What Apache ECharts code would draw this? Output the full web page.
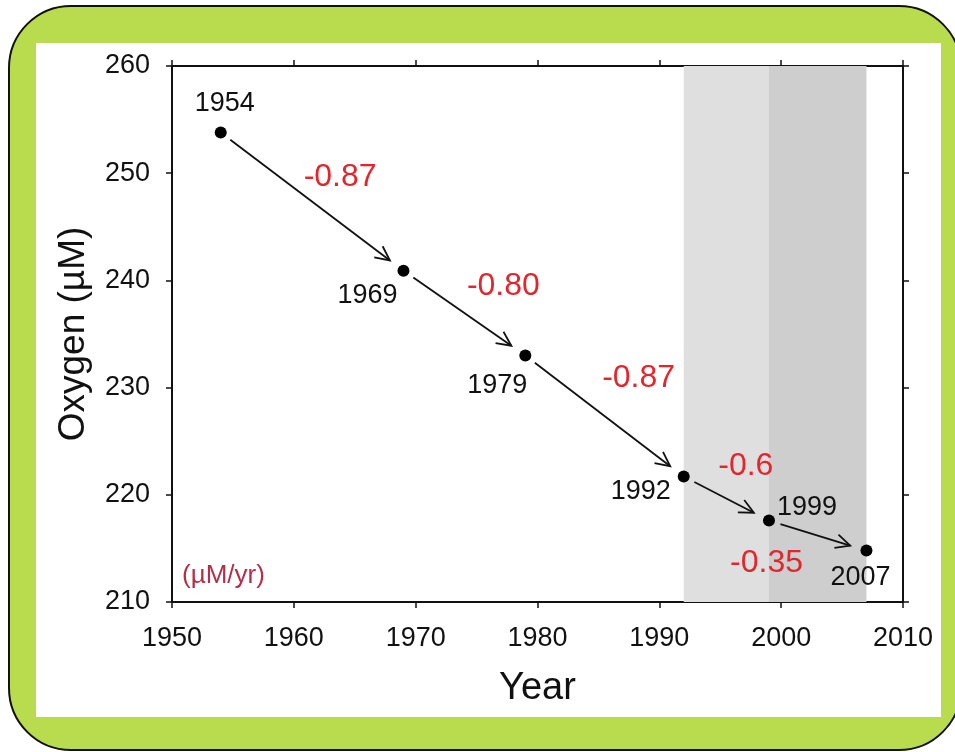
<!DOCTYPE html>
<html><head><meta charset="utf-8">
<script src="https://cdn.jsdelivr.net/npm/echarts@6/dist/echarts.min.js"></script>
<style>html,body{margin:0;padding:0;background:#fff}#c{width:955px;height:752px}</style>
</head><body><div id="c"></div>
<script>
// ---- data ----
const years = [1954, 1969, 1979, 1992, 1999, 2007];
const oxygen = [253.8, 240.9, 233.0, 221.7, 217.6, 214.8];
const rateLabels = ['-0.87', '-0.80', '-0.87', '-0.6', '-0.35'];
const rateX = [1963.8, 1977.2, 1988.3, 1997.1, 1998.8];
const rateY = [249.6, 239.5, 230.9, 222.7, 213.6];
const bands = [[1992, 1999], [1999, 2007]];
const xRange = [1950, 2010];
const yRange = [210, 260];
const unitText = '(\u00b5M/yr)';

// ---- layout / style only ----
const yearLabelOffsets = [[4, -29], [-36, 25], [-28, 30], [-43, 15], [38, -13], [-6, 27]];
const bandColors = ['#dfdfdf', '#cecece'];
const FONT = '"Liberation Sans", Arial, sans-serif';

const segments = [];
for (let i = 0; i < years.length - 1; i++) {
  segments.push([years[i], oxygen[i], years[i + 1], oxygen[i + 1]]);
}

const chart = echarts.init(document.getElementById('c'), null, {renderer: 'canvas'});
const axisLineStyle = {color: '#111', width: 2};
const tickStyle = {color: '#111', width: 1.5};

chart.setOption({
  animation: false,
  backgroundColor: 'transparent',
  textStyle: {fontFamily: FONT},
  graphic: [
    {type: 'rect', z: -10, shape: {x: 9, y: 6, width: 952, height: 744, r: 62},
     style: {fill: '#b9dc4f', stroke: '#111', lineWidth: 2}},
    {type: 'rect', z: -9, shape: {x: 36, y: 43, width: 905, height: 674},
     style: {fill: '#ffffff'}},
    {type: 'text', z: 10, left: 182, top: 563,
     style: {text: unitText, fontSize: 26, fontFamily: FONT, fill: '#b3304a'}}
  ],
  grid: {left: 172, right: 52, top: 66, bottom: 150, containLabel: false},
  xAxis: [
    {type: 'value', min: xRange[0], max: xRange[1], interval: 10, position: 'bottom',
     axisLine: {show: true, onZero: false, lineStyle: axisLineStyle},
     axisTick: {show: true, inside: false, length: 6, lineStyle: tickStyle},
     axisLabel: {fontSize: 27, color: '#111', margin: 23, fontFamily: FONT, formatter: v => String(v)},
     splitLine: {show: false},
     name: 'Year', nameLocation: 'middle', nameGap: 68,
     nameTextStyle: {fontSize: 38, color: '#111', fontFamily: FONT}},
    {type: 'value', min: xRange[0], max: xRange[1], interval: 10, position: 'top',
     axisLine: {show: true, onZero: false, lineStyle: axisLineStyle},
     axisTick: {show: true, inside: false, length: 6, lineStyle: tickStyle},
     axisLabel: {show: false}, splitLine: {show: false}}
  ],
  yAxis: [
    {type: 'value', min: yRange[0], max: yRange[1], interval: 10, position: 'left',
     axisLine: {show: true, onZero: false, lineStyle: axisLineStyle},
     axisTick: {show: true, inside: false, length: 6, lineStyle: tickStyle},
     axisLabel: {fontSize: 27, color: '#111', margin: 22, fontFamily: FONT, formatter: v => String(v)},
     splitLine: {show: false},
     name: 'Oxygen (\u00b5M)', nameLocation: 'middle', nameGap: 80,
     nameTextStyle: {fontSize: 37, color: '#111', fontFamily: FONT}},
    {type: 'value', min: yRange[0], max: yRange[1], interval: 10, position: 'right',
     axisLine: {show: true, onZero: false, lineStyle: axisLineStyle},
     axisTick: {show: true, inside: false, length: 6, lineStyle: tickStyle},
     axisLabel: {show: false}, splitLine: {show: false}}
  ],
  series: [
    {
      type: 'scatter', xAxisIndex: 0, yAxisIndex: 0, z: 1, data: [], silent: true,
      markArea: {
        silent: true,
        data: bands.map((b, i) => [{xAxis: b[0], itemStyle: {color: bandColors[i], opacity: 1}}, {xAxis: b[1]}])
      }
    },
    {
      type: 'custom', xAxisIndex: 0, yAxisIndex: 0, z: 3, silent: true,
      encode: {x: [0, 2], y: [1, 3]},
      data: segments,
      renderItem: function (params, api) {
        const a = api.coord([api.value(0), api.value(1)]);
        const b = api.coord([api.value(2), api.value(3)]);
        const dx = b[0] - a[0], dy = b[1] - a[1];
        const L = Math.hypot(dx, dy), ux = dx / L, uy = dy / L;
        const s = [a[0] + ux * 12, a[1] + uy * 12];
        const e = [b[0] - ux * 17, b[1] - uy * 17];
        const ang = Math.atan2(uy, ux), h = 16, w = 0.45;
        const p1 = [e[0] - h * Math.cos(ang - w), e[1] - h * Math.sin(ang - w)];
        const p2 = [e[0] - h * Math.cos(ang + w), e[1] - h * Math.sin(ang + w)];
        const st = {stroke: '#111', lineWidth: 1.8, fill: null};
        return {type: 'group', children: [
          {type: 'polyline', shape: {points: [s, e]}, style: st},
          {type: 'polyline', shape: {points: [p1, e, p2]}, style: st}
        ]};
      }
    },
    {
      type: 'scatter', xAxisIndex: 0, yAxisIndex: 0, z: 4, silent: true,
      symbol: 'circle', symbolSize: 12, itemStyle: {color: '#000', opacity: 1},
      data: years.map((y, i) => ({
        value: [y, oxygen[i]],
        label: {show: true, position: 'inside', offset: yearLabelOffsets[i],
                formatter: String(y), fontSize: 27, color: '#111', fontFamily: FONT}
      }))
    },
    {
      type: 'scatter', xAxisIndex: 0, yAxisIndex: 0, z: 5, silent: true,
      symbolSize: 0, itemStyle: {color: 'transparent', opacity: 1},
      data: rateX.map((x, i) => ({value: [x, rateY[i]], name: rateLabels[i]})),
      label: {show: true, position: 'inside', formatter: p => p.name,
              fontSize: 32, color: '#e3262d', fontFamily: FONT}
    }
  ]
});
</script>
</body></html>
